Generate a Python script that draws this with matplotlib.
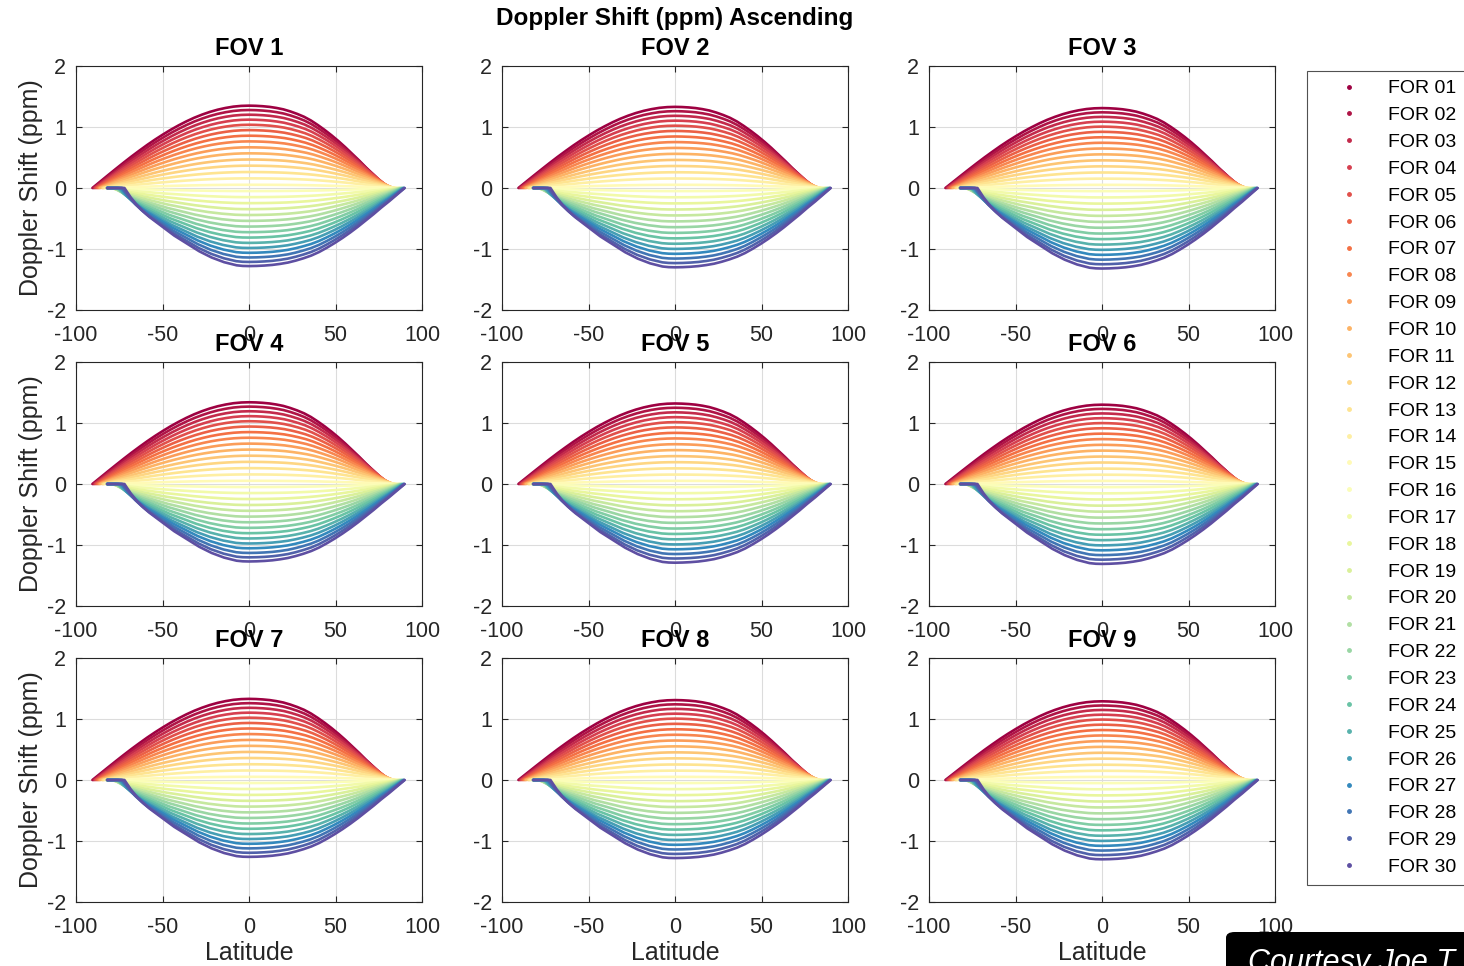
import matplotlib
matplotlib.use('Agg')
import matplotlib.pyplot as plt
from matplotlib.lines import Line2D
from matplotlib.patches import FancyBboxPatch
import numpy as np

plt.rcParams['font.family'] = ['Liberation Sans', 'DejaVu Sans']
plt.rcParams['axes.unicode_minus'] = False

# --- data ---
fov_names = ['FOV 1', 'FOV 2', 'FOV 3', 'FOV 4', 'FOV 5', 'FOV 6', 'FOV 7', 'FOV 8', 'FOV 9']
for_names = ['FOR %02d' % i for i in range(1, 31)]

# peak doppler shift (ppm) of FOR 01 and FOR 30 in each FOV panel
fov_top = [1.35, 1.33, 1.31, 1.34, 1.32, 1.30, 1.33, 1.31, 1.29]
fov_bot = [-1.28, -1.30, -1.32, -1.27, -1.29, -1.31, -1.26, -1.28, -1.30]

# relative peak of each FOR (FOR 01..15 positive, FOR 16..30 negative)
for_rel = [1.0, 0.947, 0.890, 0.830, 0.768, 0.703, 0.635, 0.566, 0.494, 0.421,
           0.346, 0.271, 0.194, 0.117, 0.039,
           -0.039, -0.117, -0.194, -0.271, -0.346, -0.421, -0.494, -0.566, -0.635, -0.703,
           -0.768, -0.830, -0.890, -0.947, -1.0]

# latitude where each curve leaves zero (south) and comes back to zero (north)
lat_lo = [-90.5, -90, -89.5, -89, -88.5, -88, -87.5, -87, -86.5, -86, -85, -84.5, -84, -83, -82,
          -81, -80, -79.5, -79, -78.5, -78, -77, -76.5, -76, -75.5, -75, -74, -73.5, -73, -72]
lat_hi = [79.5, 80, 80.5, 81, 81.3, 81.7, 82, 82.5, 83, 83.3, 83.7, 84, 84.5, 85, 85.5,
          86, 86.3, 86.6, 87, 87.3, 87.6, 88, 88.3, 88.6, 89, 89.2, 89.4, 89.6, 89.8, 90]
lat_flat = -82  # start of the flat zero part of the negative curves

# normalized curve shape, u = fraction of the way from lat_lo to 0 (left) / 0 to lat_hi (right)
prof_u = [0, 0.05, 0.1, 0.15, 0.2, 0.25, 0.3, 0.35, 0.4, 0.45, 0.5,
          0.55, 0.6, 0.65, 0.7, 0.75, 0.8, 0.85, 0.9, 0.95, 1.0]
left_pos = [0, 0.078, 0.156, 0.233, 0.309, 0.383, 0.454, 0.523, 0.588, 0.649, 0.707,
            0.760, 0.809, 0.853, 0.891, 0.924, 0.951, 0.972, 0.988, 0.997, 1.0]
left_neg = [0, 0.12, 0.22, 0.30, 0.37, 0.43, 0.49, 0.55, 0.61, 0.66, 0.71,
            0.76, 0.81, 0.85, 0.89, 0.92, 0.95, 0.97, 0.99, 0.998, 1.0]
right_shape = [1.0, 0.998, 0.993, 0.985, 0.972, 0.955, 0.93, 0.90, 0.865, 0.82, 0.765,
               0.705, 0.64, 0.57, 0.495, 0.415, 0.335, 0.25, 0.17, 0.085, 0]

colors = plt.cm.Spectral(np.linspace(0, 1, 30))

fig = plt.figure(figsize=(14.64, 9.66), dpi=100)

W, H = 1464., 966.
col_x = [76, 502, 929]
row_top = [66, 362, 658]
ax_w, ax_h = 346, 244

u = np.array(prof_u)
for i in range(9):
    r, c = divmod(i, 3)
    ax = fig.add_axes([col_x[c] / W, 1 - (row_top[r] + ax_h) / H, ax_w / W, ax_h / H])
    for k in range(30):
        lx = lat_lo[k] * (1 - u)
        rx = u[1:] * lat_hi[k]
        if for_rel[k] >= 0:
            peak = for_rel[k] * fov_top[i]
            x = np.concatenate([lx, rx])
            y = np.concatenate([peak * np.array(left_pos), peak * np.array(right_shape[1:])])
        else:
            peak = -for_rel[k] * fov_bot[i]
            x = np.concatenate([[lat_flat], lx, rx])
            y = np.concatenate([[0], peak * np.array(left_neg), peak * np.array(right_shape[1:])])
        ax.plot(x, y, color=colors[k], lw=1.9, solid_capstyle='round')
    ax.set_xlim(-100, 100)
    ax.set_ylim(-2, 2)
    ax.set_xticks([-100, -50, 0, 50, 100])
    ax.set_yticks([-2, -1, 0, 1, 2])
    ax.grid(True, color='#dcdcdc', lw=0.8)
    ax.set_axisbelow(True)
    ax.tick_params(direction='in', top=True, right=True, labelsize=15.5,
                   colors='#262626', length=4)
    ax.tick_params(axis='x', pad=11)
    ax.tick_params(axis='y', pad=7)
    for s in ax.spines.values():
        s.set_color('#262626')
        s.set_linewidth(0.8)
    ax.set_title(fov_names[i], fontsize=17, fontweight='bold', pad=8)
    if c == 0:
        ax.set_ylabel('Doppler Shift (ppm)', fontsize=18, color='#262626', labelpad=3)
    if r == 2:
        ax.set_xlabel('Latitude', fontsize=18, color='#262626', labelpad=2)

fig.text(675 / W, 1 - 18 / H, 'Doppler Shift (ppm) Ascending', ha='center', va='center',
         fontsize=17.5, fontweight='bold')

handles = [Line2D([], [], ls='none', marker='o', markersize=2.5, color=colors[k]) for k in range(30)]
leg = fig.legend(handles, for_names, loc='upper left', bbox_to_anchor=(1307 / W, 1 - 71 / H),
                 fontsize=14, frameon=True, fancybox=False, edgecolor='#262626',
                 handlelength=3.4, handletextpad=0.3, labelspacing=0.475, borderpad=0.45,
                 borderaxespad=0)
leg.get_frame().set_linewidth(0.8)

box = FancyBboxPatch((1226 / W, -20 / H), 300 / W, (966 - 932 + 20) / H,
                     boxstyle='round,pad=0,rounding_size=0.006',
                     transform=fig.transFigure, facecolor='black', edgecolor='none')
fig.patches.append(box)
fig.text(1248 / W, 1 - 948 / H, 'Courtesy Joe T', color='white', fontsize=22,
         style='italic', va='top', ha='left')

fig.savefig('out.png', dpi=100)
